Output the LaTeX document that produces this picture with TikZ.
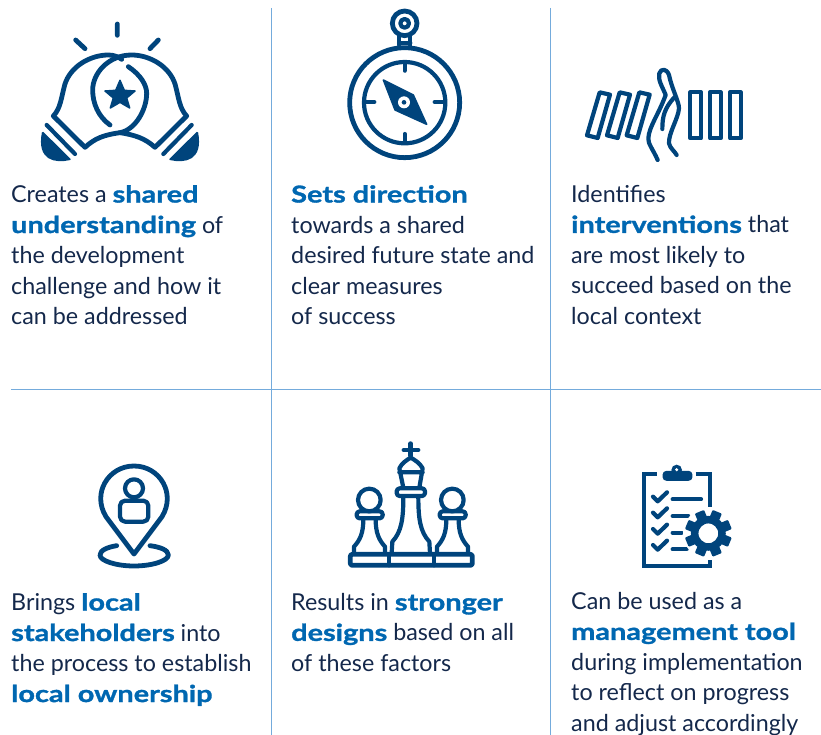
\documentclass[tikz,border=0pt]{standalone}
\usepackage{fontspec}
\setmainfont{Lato}[BoldFeatures={FakeStretch=1.24,FakeBold=1.3}]
\definecolor{icon}{HTML}{00447C}
\definecolor{rule}{HTML}{74ABDC}
\definecolor{hl}{HTML}{0067B1}
\definecolor{body}{HTML}{14284B}
\newcommand{\hw}[1]{{\bfseries\color{hl}#1}}
\tikzset{
 ic/.style={draw=icon,line width=4.8pt,line cap=round,line join=round},
 thinic/.style={draw=icon,line width=4.2pt,line cap=round,line join=round},
 fl/.style={fill=icon,draw=icon,line width=1.5pt,line join=round},
 gridline/.style={draw=rule,line width=0.8pt},
 blurb/.style={anchor=north west,inner sep=0pt,align=left,text=body,font=\fontsize{23.3}{30.5}\selectfont},
 zoomed/.style={scale=0.33333}
}
\begin{document}
\begin{tikzpicture}[x=1pt,y=-1pt]
\useasboundingbox (0,0) rectangle (821,735);
\coordinate (v1t) at (271,8); \coordinate (v1b) at (271,735);
\coordinate (v2t) at (550,8); \coordinate (v2b) at (550,735);
\coordinate (hl) at (11,389); \coordinate (hr) at (821,389);
\draw[gridline] (v1t)--(v1b); \draw[gridline] (v2t)--(v2b); \draw[gridline] (hl)--(hr);

\node[blurb] (t1) at (11,185) {Creates a \hw{shared}\\\hw{understanding} of\\the development\\challenge and how it\\can be addressed};
\node[blurb] (t2) at (291,185) {\hw{Sets direction}\\towards a shared\\desired future state and\\clear measures\\of success};
\node[blurb] (t3) at (571,185) {Identifies\\\hw{interventions} that\\are most likely to\\succeed based on the\\local context};
\node[blurb] (t4) at (11,593) {Brings \hw{local}\\\hw{stakeholders} into\\the process to establish\\\hw{local ownership}};
\node[blurb] (t5) at (291,593) {Results in \hw{stronger}\\\hw{designs} based on all\\of these factors};
\node[blurb] (t6) at (571,592) {Can be used as a\\\hw{management tool}\\during implementation\\to reflect on progress\\and adjust accordingly};

% bulbs
\begin{scope}[shift={(20,10)},zoomed]
\draw[ic] (292,42)--(292,76) (167,90)--(195,116) (415,90)--(390,116);
\draw[ic] (325,170) .. controls (362,195) and (380,225) .. (380,250) .. controls (380,300) and (345,360) .. (300,368) .. controls (250,375) and (225,385) .. (195,412) -- (100,318) .. controls (122,295) and (124,262) .. (134,225) .. controls (150,170) and (210,135) .. (265,135) .. controls (280,135) and (295,140) .. (305,148);
\draw[ic] (270,345) .. controls (235,320) and (218,280) .. (218,240) .. controls (218,190) and (265,135) .. (335,135) .. controls (390,135) and (450,170) .. (466,225) .. controls (476,262) and (478,295) .. (500,318) -- (405,412) .. controls (375,385) and (345,375) .. (300,368);
\draw[thinic] (80,345)--(165,432) (515,345)--(430,432);
\fill[fl] (68,367)--(150,448) .. controls (105,458) and (52,450) .. (68,367);
\fill[fl] (532,367)--(450,448) .. controls (495,458) and (548,450) .. (532,367);
\fill[fl] (300,211)--(313,241)--(345,243)--(320,264)--(329,294)--(300,277)--(271,294)--(280,264)--(255,243)--(287,241)--cycle;
\end{scope}

% compass
\begin{scope}[shift={(330,0)},zoomed]
\draw[ic] (224,308) circle (165);
\draw[thinic] (224,308) circle (122);
\draw[ic] (224,70) circle (37);
\draw[thinic] (224,70) circle (13);
\draw[thinic] (207,108)--(207,135) (241,108)--(241,135) (207,128)--(241,128);
\draw[thinic] (224,187)--(224,212) (224,402)--(224,427) (107,306)--(133,306) (314,306)--(340,306);
\fill[fl] (160,240)--(250,285)--(290,373)--(195,330)--cycle;
\fill[white] (222,307) circle (18);
\fill[icon] (222,307) circle (7);
\end{scope}

% hand and bars
\begin{scope}[shift={(575,60)},zoomed]
\foreach \d in {0,60,119}{
 \draw[thinic,shift={(\d,0)}] (74,97)--(105,104)--(68,234)--(36,226)--cycle;
}
\foreach \d in {0,59,119}{
 \draw[thinic,shift={(\d,0)}] (346,97) rectangle (378,235);
}
\draw[thinic] (248,300) .. controls (235,270) and (218,250) .. (220,235) .. controls (222,200) and (250,165) .. (272,105) .. controls (262,80) and (248,60) .. (253,40) .. controls (258,25) and (275,25) .. (282,45) .. controls (290,85) and (312,125) .. (312,145) .. controls (310,175) and (280,220) .. (282,250) .. controls (285,265) and (300,275) .. (305,285);
\draw[thinic] (262,207) .. controls (262,170) and (268,145) .. (298,112);
\end{scope}

% pin
\begin{scope}[shift={(85,455)},zoomed]
\draw[ic] (147,297) -- (63,185) .. controls (20,115) and (70,33) .. (147,33) .. controls (224,33) and (274,115) .. (231,185) -- cycle;
\draw[thinic] (147,100) circle (27);
\draw[thinic,rounded corners=5pt] (105,137) rectangle (190,200);
\draw[ic] (95,272) .. controls (70,276) and (45,285) .. (45,300) .. controls (45,318) and (95,333) .. (147,333) .. controls (200,333) and (250,318) .. (250,300) .. controls (250,285) and (225,276) .. (195,272);
\end{scope}

% chess
\begin{scope}[shift={(340,435)},zoomed]
\draw[ic,rounded corners=2pt] (31,358) rectangle (397,391);
\draw[thinic] (146,358)--(146,391) (282,358)--(282,391);
\draw[ic] (212,26)--(212,62) (192,45)--(234,45);
\draw[thinic] (178,100) .. controls (185,85) and (200,75) .. (212,68) .. controls (225,75) and (240,85) .. (248,100) -- (238,158) (178,100)--(190,158) (178,112)--(248,112);
\draw[thinic,rounded corners=3pt] (170,160) rectangle (255,183);
\draw[thinic] (190,185) .. controls (190,250) and (185,290) .. (157,320) -- (155,355);
\draw[thinic] (235,185) .. controls (235,250) and (240,290) .. (268,320) -- (270,355);
\foreach \d in {0,249}{
 \begin{scope}[shift={(\d,0)}]
 \draw[thinic] (88,195) circle (34);
 \draw[thinic,rounded corners=3pt] (50,229) rectangle (128,250);
 \draw[thinic] (70,252) .. controls (70,295) and (60,315) .. (42,335) -- (42,355);
 \draw[thinic] (107,252) .. controls (107,295) and (117,315) .. (135,335) -- (135,355);
 \end{scope}
}
\end{scope}

% clipboard
\begin{scope}[shift={(630,455)},zoomed]
\draw[thinic,line cap=butt,line join=miter] (80,58)--(43,58)--(43,333)--(240,333)--(240,315);
\draw[thinic,line cap=butt,line join=miter] (197,58)--(240,58)--(240,155);
\fill[fl,rounded corners=3pt] (100,50) rectangle (185,75);
\fill[icon] (140,45) circle (16);
\fill[white] (140,44) circle (5);
\foreach \y in {125,173,222,270}{
 \draw[thinic,shift={(0,\y)}] (69,0)--(83,14)--(111,-13);
}
\draw[thinic] (128,133)--(213,133) (128,183)--(175,183) (128,233)--(155,233) (128,283)--(170,283);
\fill[white] (235,235) circle (76);
\foreach \a in {0,45,...,315}{
 \fill[icon,shift={(235,235)},rotate=\a+22.5,rounded corners=1pt] (-15,-70) rectangle (15,-40);
}
\draw[icon,line width=7.5pt] (235,235) circle (41);
\end{scope}
\end{tikzpicture}
\end{document}
